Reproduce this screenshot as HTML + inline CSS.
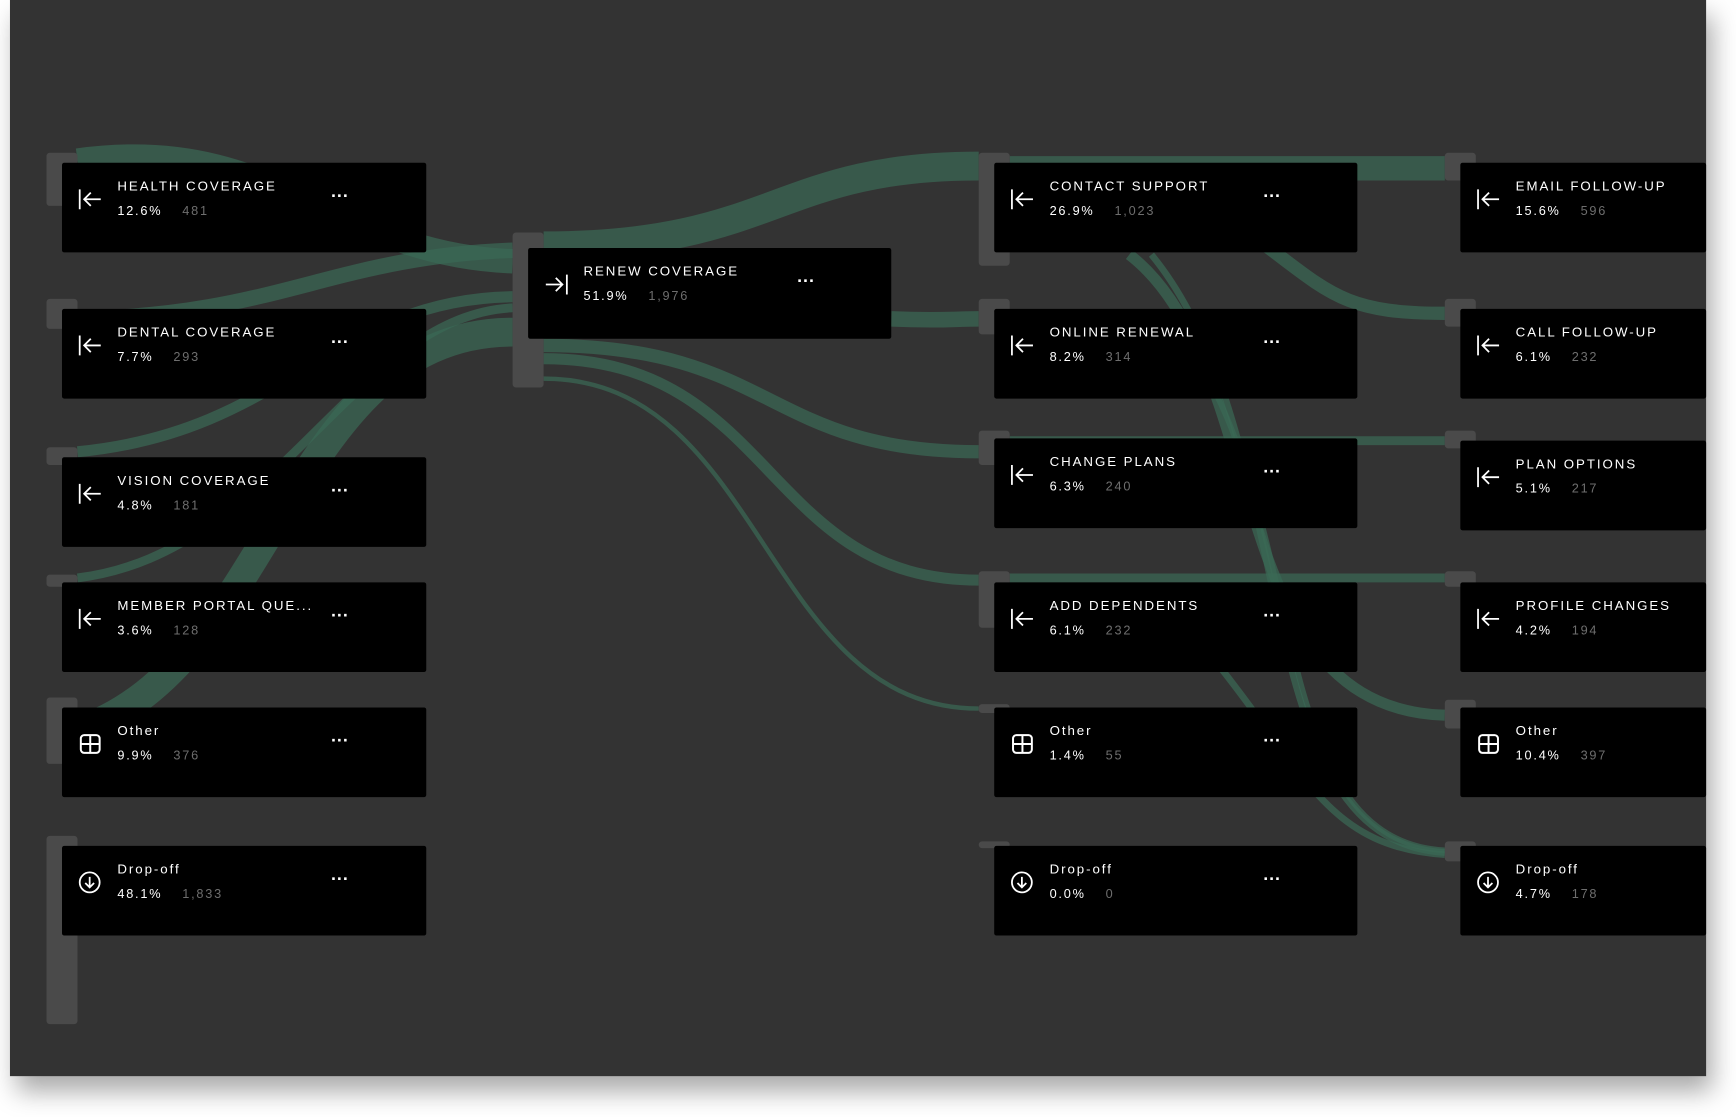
<!DOCTYPE html>
<html><head><meta charset="utf-8">
<style>
html,body{margin:0;padding:0;background:#fff;width:1736px;height:1117px;overflow:hidden}
#s{position:absolute;left:0;top:0;width:1568px;height:1009px;transform:scale(1.10714);transform-origin:0 0;font-family:"Liberation Sans",sans-serif}
#bg{position:absolute;left:9px;top:0;width:1532px;height:972px;background:#333;box-shadow:6px 14px 22px rgba(0,0,0,0.35)}
.bar{position:absolute;width:28px;background:#4a4a4a;border-radius:3px}
.n{position:absolute;height:81px;background:#000;border-radius:2px;color:#fff;overflow:hidden}
.t{position:absolute;left:50px;top:14px;font-size:12px;letter-spacing:1.75px;white-space:nowrap}
.p{position:absolute;left:50px;top:38px;font-size:11.5px;letter-spacing:1.6px;white-space:nowrap}
.p span{color:#6e6e6e;margin-left:18px}
.d{position:absolute;left:243px;top:22px;font-size:16px;font-weight:bold;letter-spacing:0px}
.i{position:absolute;left:14px;top:22px}
</style></head><body>
<div id="s">
<div id="bg"></div>
<svg width="1568" height="1009" style="position:absolute;left:0;top:0" fill="none" stroke-linecap="butt">
<g stroke="#3b6a56" stroke-opacity="0.7">
<path d="M70 145 C250 120 300 230 463 236" stroke-width="22"/>
<path d="M70 288 C250 285 300 232 463 226" stroke-width="14"/>
<path d="M70 408 C260 390 300 270 463 268" stroke-width="10"/>
<path d="M70 522 C250 500 320 285 463 278" stroke-width="8"/>
<path d="M70 660 C250 600 260 300 463 300" stroke-width="26"/>
<path d="M491 222 C700 222 700 150 884 150" stroke-width="26"/>
<path d="M805 288 C850 290 860 288 884 288" stroke-width="14"/>
<path d="M491 312 C700 312 690 408 884 408" stroke-width="12"/>
<path d="M491 324 C700 324 690 524 884 524" stroke-width="10"/>
<path d="M491 342 C690 342 690 640 884 640" stroke-width="4"/>
<path d="M912 152 C1100 152 1100 152 1305 152" stroke-width="22"/>
<path d="M1100 190 C1200 260 1200 283 1305 283" stroke-width="12"/>
<path d="M1020 230 C1150 330 1100 640 1305 646" stroke-width="10"/>
<path d="M1040 230 C1180 400 1120 760 1305 770" stroke-width="6"/>
<path d="M1090 340 C1180 500 1150 760 1305 768" stroke-width="5"/>
<path d="M912 398 C1100 398 1100 398 1305 398" stroke-width="8"/>
<path d="M912 522 C1100 522 1100 522 1305 522" stroke-width="8"/>
<path d="M1100 600 C1180 700 1200 765 1305 772" stroke-width="6"/>
</g>
</svg>
<div class="bar" style="left:42px;top:138px;height:48px"></div>
<div class="bar" style="left:42px;top:270px;height:27px"></div>
<div class="bar" style="left:42px;top:404px;height:16px"></div>
<div class="bar" style="left:42px;top:519px;height:11px"></div>
<div class="bar" style="left:42px;top:630px;height:60px"></div>
<div class="bar" style="left:42px;top:755px;height:170px"></div>
<div class="bar" style="left:463px;top:210px;height:140px"></div>
<div class="bar" style="left:884px;top:138px;height:102px"></div>
<div class="bar" style="left:884px;top:270px;height:32px"></div>
<div class="bar" style="left:884px;top:389px;height:31px"></div>
<div class="bar" style="left:884px;top:516px;height:51px"></div>
<div class="bar" style="left:884px;top:636px;height:8px"></div>
<div class="bar" style="left:884px;top:760px;height:6px"></div>
<div class="bar" style="left:1305px;top:138px;height:25px"></div>
<div class="bar" style="left:1305px;top:270px;height:25px"></div>
<div class="bar" style="left:1305px;top:389px;height:16px"></div>
<div class="bar" style="left:1305px;top:516px;height:14px"></div>
<div class="bar" style="left:1305px;top:632px;height:26px"></div>
<div class="bar" style="left:1305px;top:760px;height:18px"></div>

<div class="n" style="left:56px;top:147px;width:329px"><svg class="i" width="24" height="22" viewBox="0 0 24 22" stroke="#fff" stroke-width="1.6" fill="none"><path d="M2 2V20M21 11H6M12 5L6 11L12 17"/></svg><div class="t">HEALTH COVERAGE</div><div class="p">12.6%<span>481</span></div><div class="d">···</div></div>
<div class="n" style="left:56px;top:279px;width:329px"><svg class="i" width="24" height="22" viewBox="0 0 24 22" stroke="#fff" stroke-width="1.6" fill="none"><path d="M2 2V20M21 11H6M12 5L6 11L12 17"/></svg><div class="t">DENTAL COVERAGE</div><div class="p">7.7%<span>293</span></div><div class="d">···</div></div>
<div class="n" style="left:56px;top:413px;width:329px"><svg class="i" width="24" height="22" viewBox="0 0 24 22" stroke="#fff" stroke-width="1.6" fill="none"><path d="M2 2V20M21 11H6M12 5L6 11L12 17"/></svg><div class="t">VISION COVERAGE</div><div class="p">4.8%<span>181</span></div><div class="d">···</div></div>
<div class="n" style="left:56px;top:526px;width:329px"><svg class="i" width="24" height="22" viewBox="0 0 24 22" stroke="#fff" stroke-width="1.6" fill="none"><path d="M2 2V20M21 11H6M12 5L6 11L12 17"/></svg><div class="t">MEMBER PORTAL QUE...</div><div class="p">3.6%<span>128</span></div><div class="d">···</div></div>
<div class="n" style="left:56px;top:639px;width:329px"><svg class="i" width="24" height="22" viewBox="0 0 24 22" stroke="#fff" stroke-width="1.8" fill="none"><rect x="3" y="3" width="17" height="16" rx="3"/><path d="M3 11H20M11.5 3V19"/></svg><div class="t">Other</div><div class="p">9.9%<span>376</span></div><div class="d">···</div></div>
<div class="n" style="left:56px;top:764px;width:329px"><svg class="i" width="24" height="22" viewBox="0 0 24 22" stroke="#fff" stroke-width="1.6" fill="none"><circle cx="11" cy="11" r="9"/><path d="M11 6V15M7 11.5L11 15.5L15 11.5"/></svg><div class="t">Drop-off</div><div class="p">48.1%<span>1,833</span></div><div class="d">···</div></div>
<div class="n" style="left:477px;top:224px;width:328px;height:82px"><svg class="i" width="24" height="22" viewBox="0 0 24 22" stroke="#fff" stroke-width="1.6" fill="none"><path d="M21 2V20M2 11H17M11 5L17 11L11 17"/></svg><div class="t">RENEW COVERAGE</div><div class="p">51.9%<span>1,976</span></div><div class="d">···</div></div>
<div class="n" style="left:898px;top:147px;width:328px"><svg class="i" width="24" height="22" viewBox="0 0 24 22" stroke="#fff" stroke-width="1.6" fill="none"><path d="M2 2V20M21 11H6M12 5L6 11L12 17"/></svg><div class="t">CONTACT SUPPORT</div><div class="p">26.9%<span>1,023</span></div><div class="d">···</div></div>
<div class="n" style="left:898px;top:279px;width:328px"><svg class="i" width="24" height="22" viewBox="0 0 24 22" stroke="#fff" stroke-width="1.6" fill="none"><path d="M2 2V20M21 11H6M12 5L6 11L12 17"/></svg><div class="t">ONLINE RENEWAL</div><div class="p">8.2%<span>314</span></div><div class="d">···</div></div>
<div class="n" style="left:898px;top:396px;width:328px"><svg class="i" width="24" height="22" viewBox="0 0 24 22" stroke="#fff" stroke-width="1.6" fill="none"><path d="M2 2V20M21 11H6M12 5L6 11L12 17"/></svg><div class="t">CHANGE PLANS</div><div class="p">6.3%<span>240</span></div><div class="d">···</div></div>
<div class="n" style="left:898px;top:526px;width:328px"><svg class="i" width="24" height="22" viewBox="0 0 24 22" stroke="#fff" stroke-width="1.6" fill="none"><path d="M2 2V20M21 11H6M12 5L6 11L12 17"/></svg><div class="t">ADD DEPENDENTS</div><div class="p">6.1%<span>232</span></div><div class="d">···</div></div>
<div class="n" style="left:898px;top:639px;width:328px"><svg class="i" width="24" height="22" viewBox="0 0 24 22" stroke="#fff" stroke-width="1.8" fill="none"><rect x="3" y="3" width="17" height="16" rx="3"/><path d="M3 11H20M11.5 3V19"/></svg><div class="t">Other</div><div class="p">1.4%<span>55</span></div><div class="d">···</div></div>
<div class="n" style="left:898px;top:764px;width:328px"><svg class="i" width="24" height="22" viewBox="0 0 24 22" stroke="#fff" stroke-width="1.6" fill="none"><circle cx="11" cy="11" r="9"/><path d="M11 6V15M7 11.5L11 15.5L15 11.5"/></svg><div class="t">Drop-off</div><div class="p">0.0%<span>0</span></div><div class="d">···</div></div>
<div class="n" style="left:1319px;top:147px;width:222px"><svg class="i" width="24" height="22" viewBox="0 0 24 22" stroke="#fff" stroke-width="1.6" fill="none"><path d="M2 2V20M21 11H6M12 5L6 11L12 17"/></svg><div class="t">EMAIL FOLLOW-UP</div><div class="p">15.6%<span>596</span></div></div>
<div class="n" style="left:1319px;top:279px;width:222px"><svg class="i" width="24" height="22" viewBox="0 0 24 22" stroke="#fff" stroke-width="1.6" fill="none"><path d="M2 2V20M21 11H6M12 5L6 11L12 17"/></svg><div class="t">CALL FOLLOW-UP</div><div class="p">6.1%<span>232</span></div></div>
<div class="n" style="left:1319px;top:398px;width:222px"><svg class="i" width="24" height="22" viewBox="0 0 24 22" stroke="#fff" stroke-width="1.6" fill="none"><path d="M2 2V20M21 11H6M12 5L6 11L12 17"/></svg><div class="t">PLAN OPTIONS</div><div class="p">5.1%<span>217</span></div></div>
<div class="n" style="left:1319px;top:526px;width:222px"><svg class="i" width="24" height="22" viewBox="0 0 24 22" stroke="#fff" stroke-width="1.6" fill="none"><path d="M2 2V20M21 11H6M12 5L6 11L12 17"/></svg><div class="t">PROFILE CHANGES</div><div class="p">4.2%<span>194</span></div></div>
<div class="n" style="left:1319px;top:639px;width:222px"><svg class="i" width="24" height="22" viewBox="0 0 24 22" stroke="#fff" stroke-width="1.8" fill="none"><rect x="3" y="3" width="17" height="16" rx="3"/><path d="M3 11H20M11.5 3V19"/></svg><div class="t">Other</div><div class="p">10.4%<span>397</span></div></div>
<div class="n" style="left:1319px;top:764px;width:222px"><svg class="i" width="24" height="22" viewBox="0 0 24 22" stroke="#fff" stroke-width="1.6" fill="none"><circle cx="11" cy="11" r="9"/><path d="M11 6V15M7 11.5L11 15.5L15 11.5"/></svg><div class="t">Drop-off</div><div class="p">4.7%<span>178</span></div></div>
</div>
</body></html>
